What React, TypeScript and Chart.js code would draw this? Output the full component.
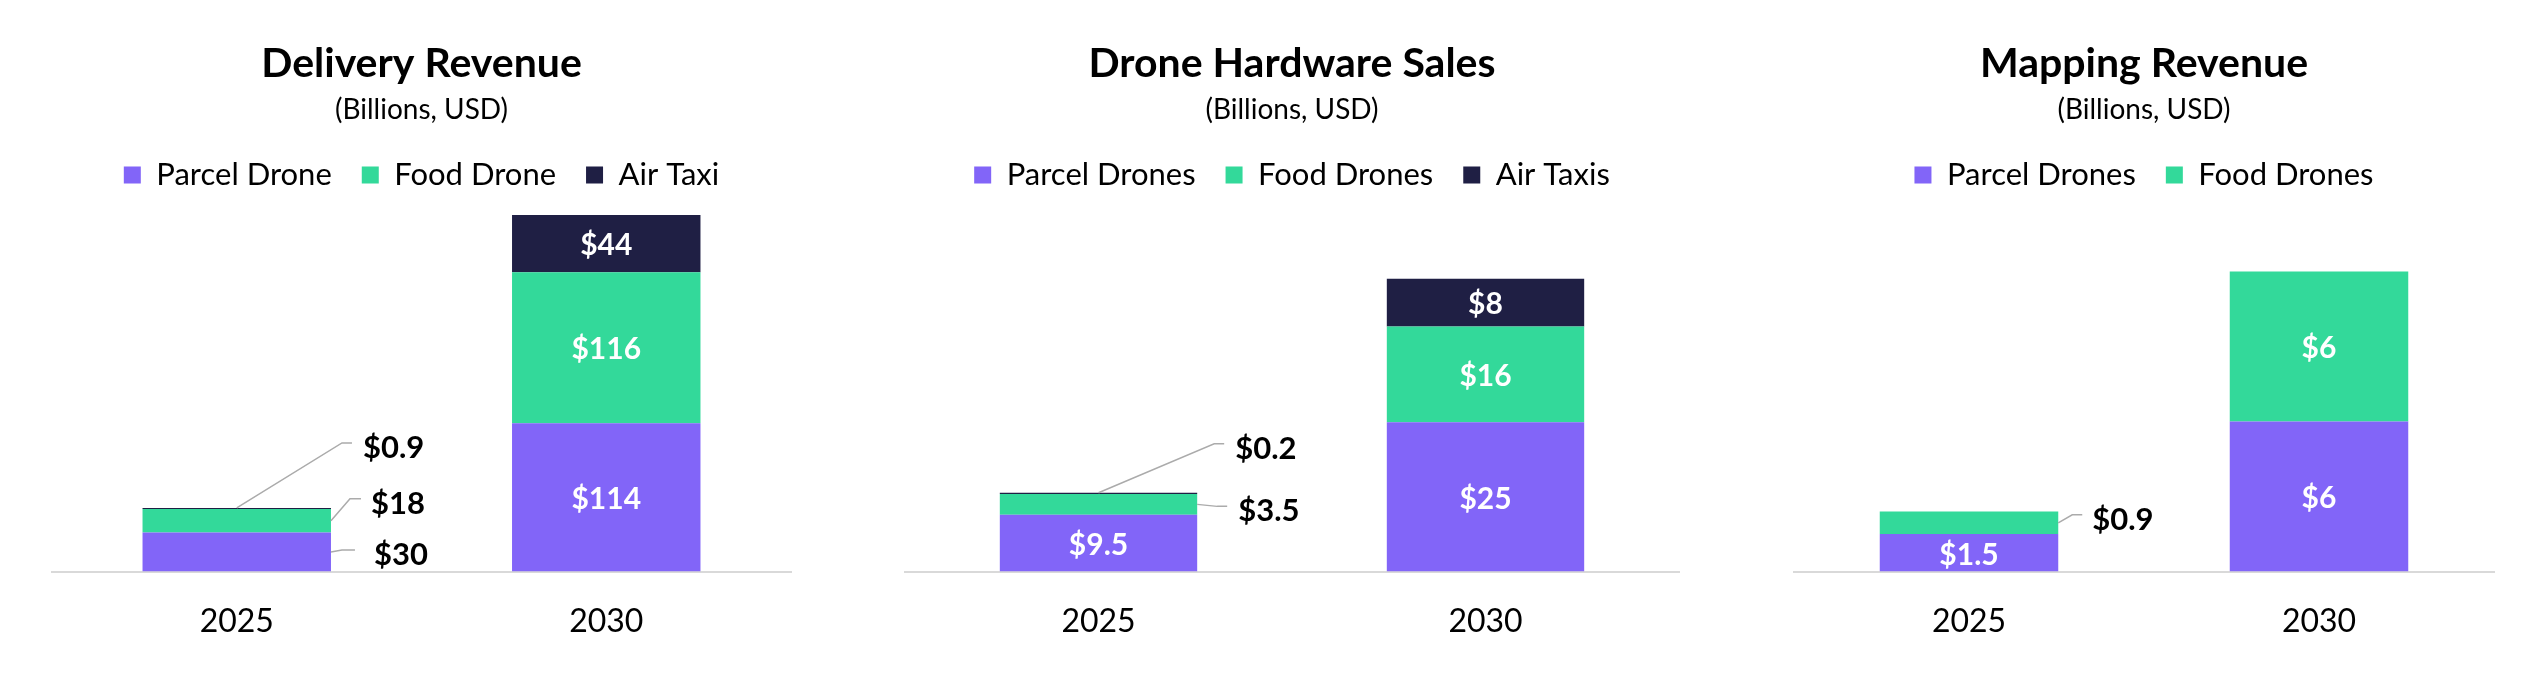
import React, { useEffect, useRef } from 'react';
import { Chart, registerables } from 'chart.js';

Chart.register(...registerables);

// ---------- data ----------
const years = ['2025', '2030'];

const deliveryParcel = [30, 114];
const deliveryFood = [18, 116];
const deliveryAirTaxi = [0.9, 44];

const hardwareParcel = [9.5, 25];
const hardwareFood = [3.5, 16];
const hardwareAirTaxi = [0.2, 8];

const mappingParcel = [1.5, 6];
const mappingFood = [0.9, 6];

const deliveryLegend = ['Parcel Drone', 'Food Drone', 'Air Taxi'];
const droneLegend = ['Parcel Drones', 'Food Drones', 'Air Taxis'];

// ---------- style ----------
const PURPLE = '#8265F8';
const GREEN = '#33D99A';
const NAVY = '#1F1F44';
const FONT = 'Lato, "Noto Sans", sans-serif';

type Callout = { ds: number; index: number; from: 'top' | 'side'; dy: number; elbow: number; end: number; text: number };

const segmentLabels = {
  id: 'segmentLabels',
  afterDatasetsDraw(chart: any, _args: any, opts: any) {
    const ctx = chart.ctx;
    const callouts: Callout[] = opts.callouts || [];
    ctx.save();
    chart.data.datasets.forEach((ds: any, di: number) => {
      const meta = chart.getDatasetMeta(di);
      meta.data.forEach((bar: any, i: number) => {
        const v = ds.data[i];
        if (v == null) return;
        const text = '$' + v;
        const { x, y, base, width } = bar.getProps(['x', 'y', 'base', 'width'], true);
        const co = callouts.find((c) => c.ds === di && c.index === i);
        if (co) {
          const right = x + width / 2;
          const sx = co.from === 'top' ? x : right;
          const sy = co.from === 'top' ? y : (y + base) / 2;
          const ey = sy + co.dy;
          ctx.beginPath();
          ctx.strokeStyle = '#ababab';
          ctx.lineWidth = 1.5;
          ctx.moveTo(sx, sy);
          ctx.lineTo(right + co.elbow, ey);
          ctx.lineTo(right + co.end, ey);
          ctx.stroke();
          ctx.fillStyle = '#000';
          ctx.font = `bold 31px ${FONT}`;
          ctx.textAlign = 'left';
          ctx.textBaseline = 'middle';
          ctx.fillText(text, right + co.text, ey + 5);
        } else {
          ctx.fillStyle = '#fff';
          ctx.font = `bold 30px ${FONT}`;
          ctx.textAlign = 'center';
          ctx.textBaseline = 'middle';
          ctx.fillText(text, x, (y + base) / 2 + 2);
        }
      });
    });
    ctx.restore();
  },
};

function makeConfig(title: string, legend: string[], series: number[][], max: number, callouts: Callout[]) {
  const colors = [PURPLE, GREEN, NAVY];
  return {
    type: 'bar' as const,
    data: {
      labels: years,
      datasets: series.map((d, k) => ({
        label: legend[k],
        data: d,
        backgroundColor: colors[k],
        borderWidth: 0,
        barPercentage: 0.51,
        categoryPercentage: 1,
      })),
    },
    plugins: [segmentLabels],
    options: {
      responsive: false,
      animation: false,
      devicePixelRatio: 1,
      layout: { padding: { left: 26, right: 26, top: 0, bottom: 14 } },
      plugins: {
        title: {
          display: true,
          text: title,
          color: '#000',
          font: { family: FONT, size: 41, weight: 'bold', lineHeight: 1.2 },
          padding: { top: 39.4, bottom: 4.1 },
        },
        subtitle: {
          display: true,
          text: '(Billions, USD)',
          color: '#000',
          font: { family: FONT, size: 28, lineHeight: 1.2 },
          padding: { top: 0, bottom: 3.2 },
        },
        legend: {
          display: true,
          labels: {
            boxWidth: 17,
            boxHeight: 17,
            padding: 30,
            color: '#000',
            font: { family: FONT, size: 31 },
          },
        },
        tooltip: { enabled: false },
        segmentLabels: { callouts },
      },
      scales: {
        x: {
          stacked: true,
          grid: { display: false, drawTicks: false },
          border: { display: true, color: '#d9d9d9', width: 2 },
          ticks: { color: '#000', padding: 31, font: { family: FONT, size: 32 } },
        },
        y: { stacked: true, display: false, min: 0, max },
      },
    },
  };
}

function Panel({ left, width, config }: { left: number; width: number; config: any }) {
  const ref = useRef<HTMLCanvasElement>(null);
  useEffect(() => {
    if (!ref.current) return;
    const chart = new Chart(ref.current, config);
    return () => chart.destroy();
  }, [config]);
  return (
    <canvas
      ref={ref}
      width={width}
      height={686}
      style={{ position: 'absolute', left, top: 0, width, height: 686 }}
    />
  );
}

const deliveryConfig = makeConfig('Delivery Revenue', deliveryLegend, [deliveryParcel, deliveryFood, deliveryAirTaxi], 285.1, [
  { ds: 2, index: 0, from: 'top', dy: -65, elbow: 11, end: 21, text: 32 },
  { ds: 1, index: 0, from: 'side', dy: -22, elbow: 19, end: 30, text: 40 },
  { ds: 0, index: 0, from: 'side', dy: -2, elbow: 11, end: 24, text: 43 },
]);

const hardwareConfig = makeConfig('Drone Hardware Sales', droneLegend, [hardwareParcel, hardwareFood, hardwareAirTaxi], 62.1, [
  { ds: 2, index: 0, from: 'top', dy: -49, elbow: 17, end: 27, text: 38 },
  { ds: 1, index: 0, from: 'side', dy: 2, elbow: 20, end: 30, text: 41 },
]);

const mappingConfig = makeConfig('Mapping Revenue', droneLegend, [mappingParcel, mappingFood], 14.84, [
  { ds: 1, index: 0, from: 'side', dy: -8, elbow: 14, end: 24, text: 34 },
]);

export default function App() {
  useEffect(() => {
    document.body.style.margin = '0';
  }, []);
  return (
    <div style={{ position: 'absolute', left: 0, top: 0, width: 2524, height: 686, background: '#fff', overflow: 'hidden' }}>
      <Panel left={26} width={791} config={deliveryConfig} />
      <Panel left={879} width={826} config={hardwareConfig} />
      <Panel left={1768} width={752} config={mappingConfig} />
    </div>
  );
}
